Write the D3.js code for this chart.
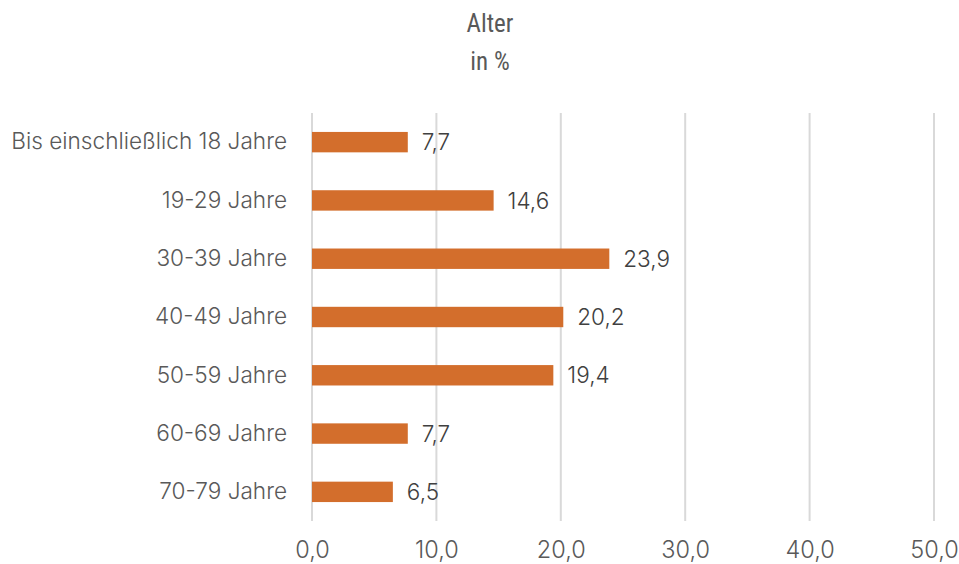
<!DOCTYPE html>
<html>
<head>
<meta charset="utf-8">
<script src="https://d3js.org/d3.v7.min.js"></script>
<style>
  html, body { margin: 0; padding: 0; background: #fff; }
  svg { display: block; }
</style>
</head>
<body>
<svg id="chart" width="959" height="564"></svg>
<script>
// Age groups and their shares (percent)
const categories = [
  "Bis einschließlich 18 Jahre",
  "19-29 Jahre",
  "30-39 Jahre",
  "40-49 Jahre",
  "50-59 Jahre",
  "60-69 Jahre",
  "70-79 Jahre"
];
const values = [7.7, 14.6, 23.9, 20.2, 19.4, 7.7, 6.5];
const tickValues = [0, 10, 20, 30, 40, 50];
const titleLines = ["Alter", "in %"];

const svg = d3.select("#chart");
const margin = { left: 312, right: 25, top: 113, bottom: 43 };
const width = 959, height = 564;
const fmt = v => v.toFixed(1).replace(".", ",");

const x = d3.scaleLinear().domain([0, 50]).range([margin.left, width - margin.right]);
const y = d3.scaleBand().domain(categories)
  .range([margin.top, height - margin.bottom])
  .paddingInner(0.65).paddingOuter(0.325);

// Vertical gridlines
svg.append("g")
  .selectAll("line")
  .data(tickValues)
  .join("line")
  .attr("x1", d => x(d)).attr("x2", d => x(d))
  .attr("y1", margin.top).attr("y2", height - margin.bottom)
  .attr("stroke", "#d9d9d9").attr("stroke-width", 2);

// Bottom axis labels
const xAxis = d3.axisBottom(x).tickValues(tickValues).tickFormat(fmt).tickSize(0).tickPadding(20);
const gx = svg.append("g")
  .attr("transform", `translate(0,${height - margin.bottom})`)
  .call(xAxis);
gx.select(".domain").remove();
gx.selectAll("text")
  .attr("fill", "#595959")
  .style("font-family", "Inter, 'Noto Sans', sans-serif")
  .style("font-weight", 300)
  .style("font-size", "23.5px");

// Category labels
const yAxis = d3.axisLeft(y).tickSize(0).tickPadding(25);
const gy = svg.append("g")
  .attr("transform", `translate(${margin.left},0)`)
  .call(yAxis);
gy.select(".domain").remove();
gy.selectAll("text")
  .attr("fill", "#595959")
  .style("font-family", "Inter, 'Noto Sans', sans-serif")
  .style("font-weight", 300)
  .style("font-size", "22.6px");

// Bars
svg.append("g")
  .selectAll("rect")
  .data(values)
  .join("rect")
  .attr("x", x(0))
  .attr("y", (d, i) => y(categories[i]))
  .attr("width", d => x(d) - x(0))
  .attr("height", y.bandwidth())
  .attr("fill", "#d36e2c");

// Value labels
svg.append("g")
  .selectAll("text")
  .data(values)
  .join("text")
  .attr("x", d => x(d) + 14)
  .attr("y", (d, i) => y(categories[i]) + y.bandwidth() / 2)
  .attr("dy", "0.36em")
  .attr("fill", "#404040")
  .style("font-family", "Inter, 'Noto Sans', sans-serif")
  .style("font-weight", 300)
  .style("font-size", "22.5px")
  .text(fmt);

// Title
svg.append("g")
  .selectAll("text")
  .data(titleLines)
  .join("text")
  .attr("x", 490)
  .attr("y", (d, i) => 32 + i * 38)
  .attr("text-anchor", "middle")
  .attr("fill", "#595959")
  .style("font-family", "'Liberation Sans Narrow', 'Roboto Condensed', 'Open Sans', sans-serif")
  .style("font-size", "25px")
  .text(d => d);
</script>
</body>
</html>
